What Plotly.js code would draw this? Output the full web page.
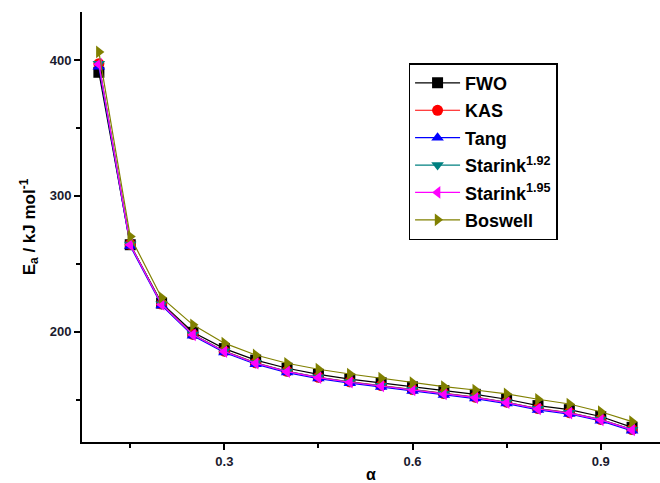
<!DOCTYPE html>
<html>
<head>
<meta charset="utf-8">
<script src="https://cdn.plot.ly/plotly-3.0.1.min.js"></script>
<style>html,body{margin:0;padding:0;background:#fff;}#chart{width:660px;height:483px;}</style>
</head>
<body>
<div id="chart"></div>
<script>
const alpha = [0.1,0.15,0.2,0.25,0.3,0.35,0.4,0.45,0.5,0.55,0.6,0.65,0.7,0.75,0.8,0.85,0.9,0.95];
const fwo      = [391,264,221,199.5,187.5,179,173,168.5,165,162.3,159.3,156.5,153.8,150.2,145.5,142.5,137.5,129.5];
const kas      = [397.3,264.3,220.3,197.9,185.6,177,170.8,166.4,163,160.3,157.3,154.4,151.7,148,143.3,140.3,135.3,127.9];
const tang     = [395,263,219.3,196.9,184.6,176,169.8,165.4,162,159.3,156.3,153.4,150.7,147,142.3,139.3,134.3,126.9];
const starink192 = [397.2,264.2,220.2,197.8,185.5,176.9,170.7,166.3,162.9,160.2,157.2,154.3,151.6,147.9,143.2,140.2,135.2,127.8];
const starink195 = [397,264,220,197.6,185.3,176.7,170.5,166.1,162.7,160,157,154.1,151.4,147.7,143,140,135,127.6];
const boswell  = [406,270,225,205,191.5,182.8,176.7,172.3,168.8,165.7,162.4,159.5,157,154.1,150.2,146.7,141,133.7];

const names = ['FWO','KAS','Tang','Starink<sup>1.92</sup>','Starink<sup>1.95</sup>','Boswell'];
const series = [fwo,kas,tang,starink192,starink195,boswell];
const colors = ['#000000','#ff0000','#0000ff','#008080','#ff00ff','#808000'];
const symbols = ['square','circle','triangle-up','triangle-down','triangle-left','triangle-right'];

const traces = series.map((s,i)=>({
  x: alpha, y: s, type:'scatter', mode:'lines+markers',
  name: '<b>'+names[i]+'</b>', legendgroup:'g'+i,
  line:{color:colors[i], width:1.2},
  marker:{symbol:symbols[i], color:colors[i], size:11}
}));

const font = 'Liberation Sans, Arial, sans-serif';
const layout = {
  width:660, height:483,
  margin:{l:82, r:0, t:12, b:41},
  paper_bgcolor:'#fff', plot_bgcolor:'#fff',
  font:{family:font, color:'#000'},
  showlegend:true,
  legend:{x:0.565, y:0.881, xanchor:'left', yanchor:'top',
    bordercolor:'#000', borderwidth:1.5, bgcolor:'#fff',
    font:{family:font, size:18, color:'#000'}, itemwidth:45, tracegroupgap:1},
  xaxis:{range:[0.0731,0.9945], tickvals:[0.3,0.6,0.9], ticktext:['<b>0.3</b>','<b>0.6</b>','<b>0.9</b>'],
    ticks:'outside', ticklen:6, tickwidth:2, tickcolor:'#000',
    minor:{tickvals:[0.15,0.45,0.75], ticks:'outside', ticklen:4, tickwidth:2, tickcolor:'#000'},
    showline:true, linewidth:2, linecolor:'#000', showgrid:false, zeroline:false,
    tickfont:{family:font, size:13, color:'#1a1a2e'},
    title:{text:'<b>α</b>', font:{family:font, size:16, color:'#000'}, standoff:8}},
  yaxis:{range:[118.7,435.4], tickvals:[200,300,400], ticktext:['<b>200</b>','<b>300</b>','<b>400</b>'],
    ticks:'outside', ticklen:6, tickwidth:2, tickcolor:'#000',
    minor:{tickvals:[150,250,350], ticks:'outside', ticklen:4, tickwidth:2, tickcolor:'#000'},
    showline:true, linewidth:2, linecolor:'#000', showgrid:false, zeroline:false,
    tickfont:{family:font, size:13, color:'#1a1a2e'},
    title:{text:'<b>E<sub>a</sub> / kJ mol<sup>-1</sup></b>', font:{family:font, size:17, color:'#000'}, standoff:10}}
};
Plotly.newPlot('chart', traces, layout, {displayModeBar:false, staticPlot:true});
</script>
</body>
</html>
